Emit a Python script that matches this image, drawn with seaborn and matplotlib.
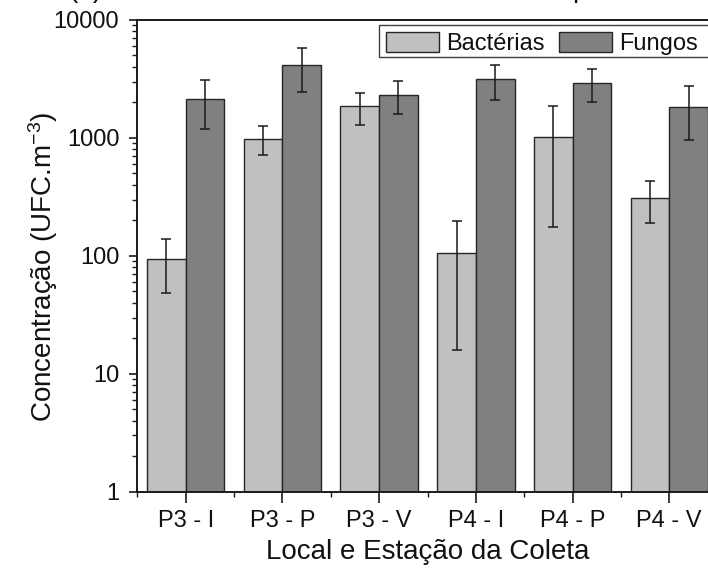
import matplotlib
matplotlib.use("Agg")
import matplotlib.pyplot as plt
from matplotlib.patches import Patch, Rectangle
from matplotlib.ticker import FixedLocator, LogLocator, NullFormatter
import numpy as np
import pandas as pd
import seaborn as sns

# Mean airborne counts and standard deviations per site/season
categorias = ["P3 - I", "P3 - P", "P3 - V", "P4 - I", "P4 - P", "P4 - V"]
bacterias = [94, 986, 1854, 106, 1026, 309]
bacterias_dp = [46, 270, 570, 90, 850, 119]
fungos = [2157, 4130, 2300, 3143, 2944, 1844]
fungos_dp = [960, 1700, 710, 1045, 928, 890]
grupos = ["Bactérias", "Fungos"]
cores = ["#c0c0c0", "#808080"]

df = pd.DataFrame({
    "local": categorias * 2,
    "valor": bacterias + fungos,
    "dp": bacterias_dp + fungos_dp,
    "grupo": [grupos[0]] * len(categorias) + [grupos[1]] * len(categorias),
})

sns.set_theme(style="white")
plt.rcParams["font.family"] = ["Liberation Sans", "DejaVu Sans"]
plt.rcParams["mathtext.fontset"] = "custom"
plt.rcParams["mathtext.rm"] = "Liberation Sans"
plt.rcParams["mathtext.it"] = "Liberation Sans"

W, H = 708, 574
fig = plt.figure(figsize=(W / 100, H / 100), dpi=100)
left, bottom_px, top_px = 137.4, 491.7, 20.0
unit = 96.7
ax_w = 6 * unit
ax = fig.add_axes([left / W, (H - bottom_px) / H, ax_w / W, (bottom_px - top_px) / H])
ax.set_yscale("log")

sns.barplot(data=df, x="local", y="valor", hue="grupo", order=categorias,
            hue_order=grupos, palette=cores, width=0.8, errorbar=None,
            edgecolor="#262626", linewidth=1.0, saturation=1, ax=ax, legend=False)

# Error bars at the centre of each dodged bar
pos = np.arange(len(categorias))
for k, (vals, dps) in enumerate([(bacterias, bacterias_dp), (fungos, fungos_dp)]):
    ax.errorbar(pos + (k - 0.5) * 0.4, vals, yerr=dps, fmt="none", ecolor="#1a1a1a",
                elinewidth=1.1, capsize=3.4, capthick=1.1, zorder=5)

ax.set_xlim(-0.5, 5.5)
ax.set_ylim(1, 10000)

ax.xaxis.set_minor_locator(FixedLocator(np.arange(-0.5, 6.0, 1.0)))
ax.yaxis.set_major_locator(FixedLocator([1, 10, 100, 1000, 10000]))
ax.yaxis.set_minor_locator(LogLocator(base=10, subs=np.arange(2, 10)))
ax.yaxis.set_minor_formatter(NullFormatter())
ax.set_yticklabels(["1", "10", "100", "1000", "10000"])

ax.tick_params(axis="both", which="major", direction="out", length=6, width=1.2,
               color="#1a1a1a", labelsize=17, labelcolor="#111111", pad=7,
               left=True, bottom=True)
ax.tick_params(axis="x", which="major", length=8, pad=5.5)
ax.tick_params(axis="both", which="minor", direction="out", length=3.5, width=1.0,
               color="#1a1a1a", left=True, bottom=True)

for side in ["left", "bottom", "top", "right"]:
    ax.spines[side].set_visible(True)
    ax.spines[side].set_color("#1a1a1a")
    ax.spines[side].set_linewidth(1.4)

ax.set_xlabel("Local e Estação da Coleta", fontsize=20, color="#111111", labelpad=5)
ax.set_ylabel("Concentração (UFC.m$^{-3}$)", fontsize=20, color="#111111")
ax.yaxis.set_label_coords((60 - left) / ax_w, (bottom_px - 267) / (bottom_px - top_px))

# Legend entries without matplotlib's own frame; the box runs past the right edge
handles = [Patch(facecolor=c, edgecolor="#262626", linewidth=1.0) for c in cores]
leg = ax.legend(handles, grupos, ncol=2, fontsize=17, loc="upper left",
                bbox_to_anchor=(379 / W, 1 - 25 / H), bbox_transform=fig.transFigure,
                borderaxespad=0, borderpad=0.3, handlelength=2.25, handleheight=0.9,
                handletextpad=0.3, columnspacing=0.6, frameon=False)
for t in leg.get_texts():
    t.set_color("#111111")
leg.set_zorder(8)
ax.add_patch(Rectangle((379 / W, 1 - 57 / H), (730 - 379) / W, 32 / H,
                       transform=fig.transFigure, facecolor="white",
                       edgecolor="#404040", linewidth=1.0, zorder=7, clip_on=False))

# Panel heading sitting just above the figure edge
fig.text(68 / W, 1 + 3 / H, "(b)", fontsize=20, va="baseline", ha="left", color="#111111")
fig.text(572 / W, 1 + 3 / H, "p", fontsize=20, va="baseline", ha="left", color="#111111")

fig.savefig("out.png", dpi=100)
